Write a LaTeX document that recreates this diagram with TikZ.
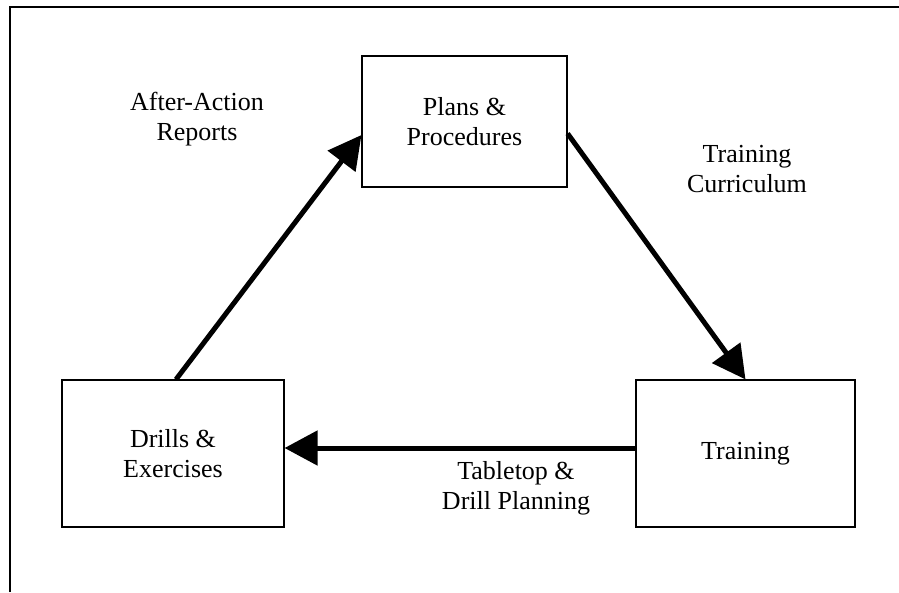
\documentclass[tikz,border=0pt]{standalone}
\usepackage{fontspec}
\setmainfont{Liberation Serif}
\usetikzlibrary{arrows.meta,calc}
\begin{document}
\begin{tikzpicture}[x=1pt,y=-1pt,
  box/.style={draw=black,line width=1.1pt,minimum width=205pt,minimum height=131pt,align=center,font=\fontsize{26}{30}\selectfont,inner sep=0pt},
  lbl/.style={align=center,font=\fontsize{26}{30}\selectfont,inner sep=0pt},
  flow/.style={line width=5pt,-{Triangle[length=33pt,width=34pt]}},
  frame/.style={line width=2pt}]
\useasboundingbox (0,0) rectangle (899,592);
\coordinate (fb) at (9.5,592);
\coordinate (fc) at (9.5,6.5);
\coordinate (fr) at (899,6.5);
\draw[frame] (fb) -- (fc) -- (fr);
\node[box] (plans) at (464.5,121.5) {Plans \&\\Procedures};
\node[box,minimum width=222pt,minimum height=147pt] (drills) at (173,453.5) {Drills \&\\Exercises};
\node[box,minimum width=219pt,minimum height=147pt] (training) at (745.5,453.5) {Training};
\coordinate (a1s) at ($(drills.north)+(3,0)$);
\coordinate (a1e) at ($(plans.west)+(0,13.5)$);
\coordinate (a2s) at ($(plans.east)+(0,12)$);
\coordinate (a3s) at ($(training.west)+(0,-5.5)$);
\coordinate (a3e) at ($(drills.east)+(0,-5.5)$);
\draw[flow] (a1s) -- (a1e);
\draw[flow] (a2s) -- (training.north);
\draw[flow] (a3s) -- (a3e);
\node[lbl] (l1) at (197,119) {After-Action\\Reports};
\node[lbl] (l2) at (747,169) {Training\\Curriculum};
\node[lbl] (l3) at (516,488) {Tabletop \&\\Drill Planning};
\end{tikzpicture}
\end{document}
